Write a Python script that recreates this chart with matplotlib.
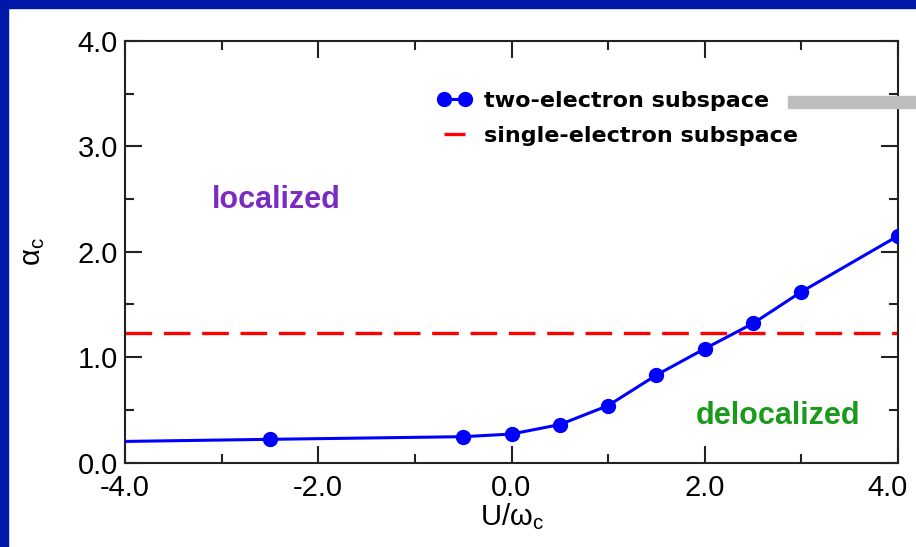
import numpy as np
import matplotlib
matplotlib.use('Agg')
import matplotlib.pyplot as plt
import matplotlib.transforms as mtransforms
from matplotlib.ticker import MultipleLocator, FormatStrFormatter
from matplotlib.patches import Rectangle

plt.rcParams['font.family'] = ['Liberation Sans', 'DejaVu Sans']
plt.rcParams['axes.unicode_minus'] = False
plt.rcParams['mathtext.fontset'] = 'custom'
plt.rcParams['mathtext.rm'] = 'Liberation Sans'

# two-electron subspace: critical coupling vs U/omega_c
u_two = [-4.0, -2.5, -0.5, 0.0, 0.5, 1.0, 1.5, 2.0, 2.5, 3.0, 4.0]
alpha_two = [0.20, 0.22, 0.245, 0.27, 0.36, 0.54, 0.83, 1.08, 1.32, 1.62, 2.15]
# single-electron subspace value (flat)
u_single = [-4.0, 4.0]
alpha_single = [1.23, 1.23]

x_ticks = [-4.0, -2.0, 0.0, 2.0, 4.0]
y_ticks = [0.0, 1.0, 2.0, 3.0, 4.0]

fig = plt.figure(figsize=(9.16, 5.47), dpi=100)
fig.patch.set_facecolor('white')
# dark blue slide frame on the left and top
blue = '#0018A8'
fig.patches.append(Rectangle((0, 0), 8 / 916, 1, transform=fig.transFigure, color=blue, zorder=0))
fig.patches.append(Rectangle((0, 1 - 8 / 547), 1, 8 / 547, transform=fig.transFigure, color=blue, zorder=0))

ax = fig.add_axes([125 / 916, 1 - 462.5 / 547, (898 - 125) / 916, (462.5 - 41) / 547])

ax.plot(u_two, alpha_two, color='#0000FF', lw=2.2, marker='o', ms=10,
        markevery=list(range(1, len(u_two))), label='two-electron subspace', zorder=3)
ax.plot(u_single, alpha_single, color='#FF0000', lw=2.4, dashes=(8, 3.5),
        label='single-electron subspace', zorder=2)

ax.set_xlim(-4, 4)
ax.set_ylim(0, 4)
ax.set_xticks(x_ticks)
ax.set_yticks(y_ticks)
ax.xaxis.set_minor_locator(MultipleLocator(1.0))
ax.yaxis.set_minor_locator(MultipleLocator(0.5))
ax.xaxis.set_major_formatter(FormatStrFormatter('%.1f'))
ax.yaxis.set_major_formatter(FormatStrFormatter('%.1f'))
ax.tick_params(which='both', direction='in', top=True, right=True, color='#222222', width=1.5)
ax.tick_params(which='major', length=12, labelsize=21)
ax.tick_params(which='minor', length=6.5)
ax.tick_params(axis='x', which='major', pad=8)
ax.tick_params(axis='y', which='major', pad=5)
for s in ax.spines.values():
    s.set_linewidth(1.5)
    s.set_color('#222222')

# last x label sits a bit left so it stays inside the picture
fig.canvas.draw()
last = ax.get_xticklabels()[-1]
last.set_transform(last.get_transform() + mtransforms.ScaledTranslation(-10 / 100, 0, fig.dpi_scale_trans))

ax.set_xlabel(r'U/ω$_\mathregular{c}$', fontsize=21, labelpad=0)
ax.set_ylabel(r'α$_\mathregular{c}$', fontsize=21, labelpad=22)

ax.text(-2.43, 2.49, 'localized', color='#7A2BC4', fontsize=22, fontweight='bold',
        ha='center', va='center')
ax.text(2.76, 0.44, 'delocalized', color='#1A9A1A', fontsize=22, fontweight='bold',
        ha='center', va='center')

leg = ax.legend(loc='upper left', bbox_to_anchor=(437 / 916, 1 - 91 / 547),
                bbox_transform=fig.transFigure, frameon=False, numpoints=2,
                handlelength=1.55, handletextpad=0.55, labelspacing=0.68,
                borderpad=0, borderaxespad=0,
                prop={'family': 'DejaVu Sans', 'weight': 'bold', 'size': 16})

# grey marker bar next to the first legend entry
fig.patches.append(Rectangle((788 / 916, 1 - 108 / 547), (916 - 788) / 916, 12 / 547,
                             transform=fig.transFigure, color='#BEBEBE', zorder=5))

fig.savefig('out.png', dpi=100)
